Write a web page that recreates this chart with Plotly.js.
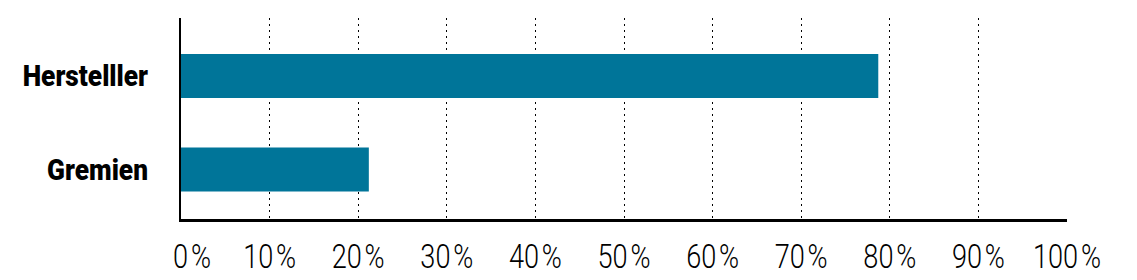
<!DOCTYPE html>
<html>
<head>
<meta charset="utf-8">
<script src="https://cdn.plot.ly/plotly-3.0.1.min.js"></script>
<style>
  html, body { margin: 0; padding: 0; background: #fff; }
  #chart { width: 1137px; height: 280px; }
</style>
</head>
<body>
<div id="chart"></div>
<script>
const categories = ["Gremien", "Herstelller"];
const shares = [21.2, 78.7];
const tickValues = [0, 10, 20, 30, 40, 50, 60, 70, 80, 90, 100];
const tickLabels = ["0\u200a%", "10\u200a%", "20\u200a%", "30\u200a%", "40\u200a%", "50\u200a%", "60\u200a%", "70\u200a%", "80\u200a%", "90\u200a%", "100\u200a%"];

const trace = {
  type: "bar",
  orientation: "h",
  x: shares,
  y: categories,
  width: 0.47,
  marker: { color: "#007599", line: { width: 0 } },
  hoverinfo: "none"
};

const layout = {
  width: 1137,
  height: 280,
  margin: { l: 181, r: 70, t: 18, b: 61 },
  paper_bgcolor: "#ffffff",
  plot_bgcolor: "#ffffff",
  showlegend: false,
  xaxis: {
    range: [0, 100],
    tickvals: tickValues,
    ticktext: tickLabels,
    tickangle: 0,
    showgrid: true,
    gridcolor: "#000000",
    gridwidth: 1,
    griddash: "1.5px,4.5px",
    zeroline: false,
    showline: true,
    linecolor: "#000000",
    linewidth: 3,
    ticks: "",
    ticklabelstandoff: 6,
    tickfont: { family: "Roboto, Liberation Sans, sans-serif", size: 33, color: "#000000", weight: 300 },
    fixedrange: true
  },
  yaxis: {
    type: "category",
    range: [-0.53, 1.62],
    tickangle: 0,
    showgrid: false,
    zeroline: false,
    showline: true,
    linecolor: "#000000",
    linewidth: 2,
    ticks: "",
    ticklabelstandoff: 25,
    tickfont: { family: "Roboto, Liberation Sans, sans-serif", size: 30, color: "#000000", weight: 900 },
    fixedrange: true
  }
};

// Condense tick label text horizontally (narrow typeface look), scaling about each label's anchor
function condense(selector, refText, refWidth, anchorFrac, extraShift) {
  const texts = Array.from(document.querySelectorAll(selector));
  const ref = texts.find(t => t.textContent === refText);
  if (!ref) return;
  const s = refWidth / ref.getBBox().width;
  texts.forEach((t) => {
    const bb = t.getBBox();
    const ax = bb.x + bb.width * anchorFrac;
    const base = t.getAttribute("transform") || "";
    const shift = extraShift ? extraShift(t) : 0;
    t.setAttribute("transform",
      base + " translate(" + (ax + shift) + ",0) scale(" + s + ",1) translate(" + (-ax) + ",0)");
  });
}

Plotly.newPlot("chart", [trace], layout, { displayModeBar: false, staticPlot: true }).then(() => {
  condense(".xtick text", "100\u200a%", 68, 0.5, (t) => (t.textContent === "0\u200a%" ? 11 : 0));
  condense(".ytick text", "Herstelller", 126, 1);
});
</script>
</body>
</html>
